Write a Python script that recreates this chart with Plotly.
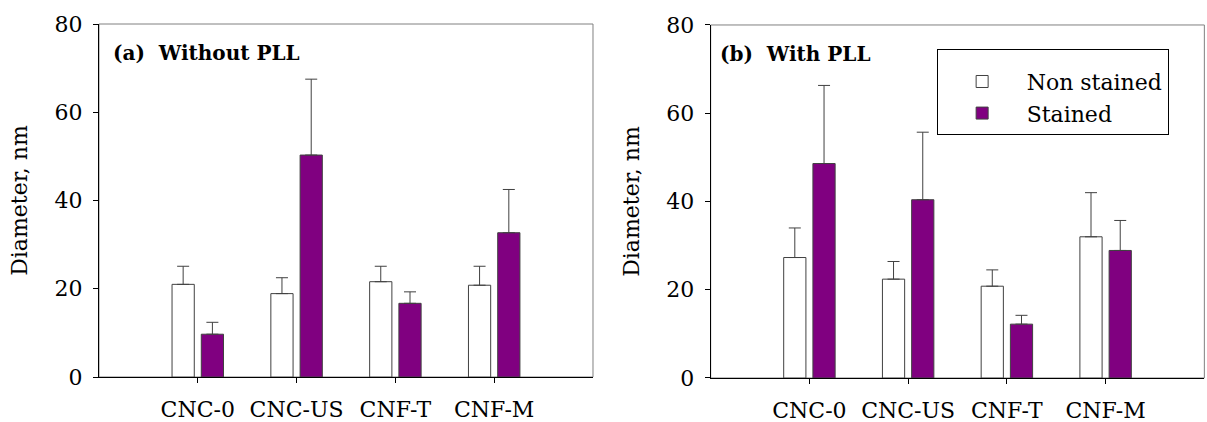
import plotly.graph_objects as go

categories = ["CNC-0", "CNC-US", "CNF-T", "CNF-M"]

# Panel (a) Without PLL
a_non = [21.0, 18.9, 21.6, 20.8]
a_non_err = [4.1, 3.6, 3.5, 4.3]
a_st = [9.7, 50.3, 16.7, 32.7]
a_st_err = [2.7, 17.2, 2.6, 9.8]

# Panel (b) With PLL
b_non = [27.3, 22.4, 20.8, 32.0]
b_non_err = [6.7, 4.0, 3.7, 10.0]
b_st = [48.6, 40.4, 12.2, 28.9]
b_st_err = [17.7, 15.3, 2.0, 6.8]

PURPLE = "#800080"
EDGE = "#404040"
FONT = "DejaVu Serif"

fig = go.Figure()

def add_pair(non, non_err, st, st_err, xa, ya, show):
    fig.add_trace(go.Bar(
        x=categories, y=non, name="Non stained", xaxis=xa, yaxis=ya,
        marker=dict(color="white", line=dict(color=EDGE, width=1)),
        error_y=dict(type="data", array=non_err, arrayminus=[0]*len(non_err),
                     symmetric=False, color=EDGE, thickness=1, width=6),
        showlegend=show, legendgroup="non"))
    fig.add_trace(go.Bar(
        x=categories, y=st, name="Stained", xaxis=xa, yaxis=ya,
        marker=dict(color=PURPLE, line=dict(color=EDGE, width=1)),
        error_y=dict(type="data", array=st_err, arrayminus=[0]*len(st_err),
                     symmetric=False, color=EDGE, thickness=1, width=6),
        showlegend=show, legendgroup="st"))

add_pair(a_non, a_non_err, a_st, a_st_err, "x", "y", False)
add_pair(b_non, b_non_err, b_st, b_st_err, "x2", "y2", True)

xcommon = dict(type="category", range=[-1, 4], ticks="outside", ticklen=5,
               tickcolor="black", showline=True, linecolor="black", linewidth=1,
               showgrid=False, zeroline=False, tickfont=dict(family=FONT, size=22, color="black"),
               ticklabelstandoff=8, automargin=False)
ycommon = dict(range=[0, 80], dtick=20, ticks="outside", ticklen=5, tickcolor="black",
               showline=True, linecolor="black", linewidth=1, showgrid=False, zeroline=False,
               tickfont=dict(family=FONT, size=22, color="black"), ticklabelstandoff=6,
               automargin=False,
               title=dict(text="Diameter, nm", font=dict(family=FONT, size=22, color="black"), standoff=20))

fig.update_layout(
    width=1207, height=422, margin=dict(l=0, r=0, t=0, b=0, autoexpand=False),
    paper_bgcolor="white", plot_bgcolor="white",
    barmode="group", bargap=0.408, bargroupgap=0.24,
    xaxis=dict(domain=[0.0820, 0.4913], anchor="y", **xcommon),
    yaxis=dict(domain=[0.1066, 0.9431], anchor="x", **ycommon),
    xaxis2=dict(domain=[0.5888, 0.9978], anchor="y2", **xcommon),
    yaxis2=dict(domain=[0.1043, 0.9408], anchor="x2", **ycommon),
    legend=dict(x=0.776, y=0.8832, xanchor="left", yanchor="top",
                bordercolor="black", borderwidth=1, bgcolor="white",
                font=dict(family=FONT, size=22, color="black"),
                traceorder="normal", itemwidth=79, tracegroupgap=2,
                title=dict(text=" ", font=dict(size=8))),
    font=dict(family=FONT, color="black"),
)

for xr, yr in [("x", "y"), ("x2", "y2")]:
    fig.add_shape(type="rect", xref=f"{xr} domain", yref=f"{yr} domain",
                  x0=0, x1=1, y0=0, y1=1, line=dict(color="#808080", width=1),
                  layer="below")

fig.add_annotation(text="<b>(a)  Without PLL</b>", xref="x domain", yref="y domain",
                   x=0.024, y=0.918, xanchor="left", yanchor="middle", showarrow=False,
                   font=dict(family=FONT, size=20, color="black"))
fig.add_annotation(text="<b>(b)  With PLL</b>", xref="x2 domain", yref="y2 domain",
                   x=0.015, y=0.918, xanchor="left", yanchor="middle", showarrow=False,
                   font=dict(family=FONT, size=20, color="black"))

fig.write_html("out.html")
